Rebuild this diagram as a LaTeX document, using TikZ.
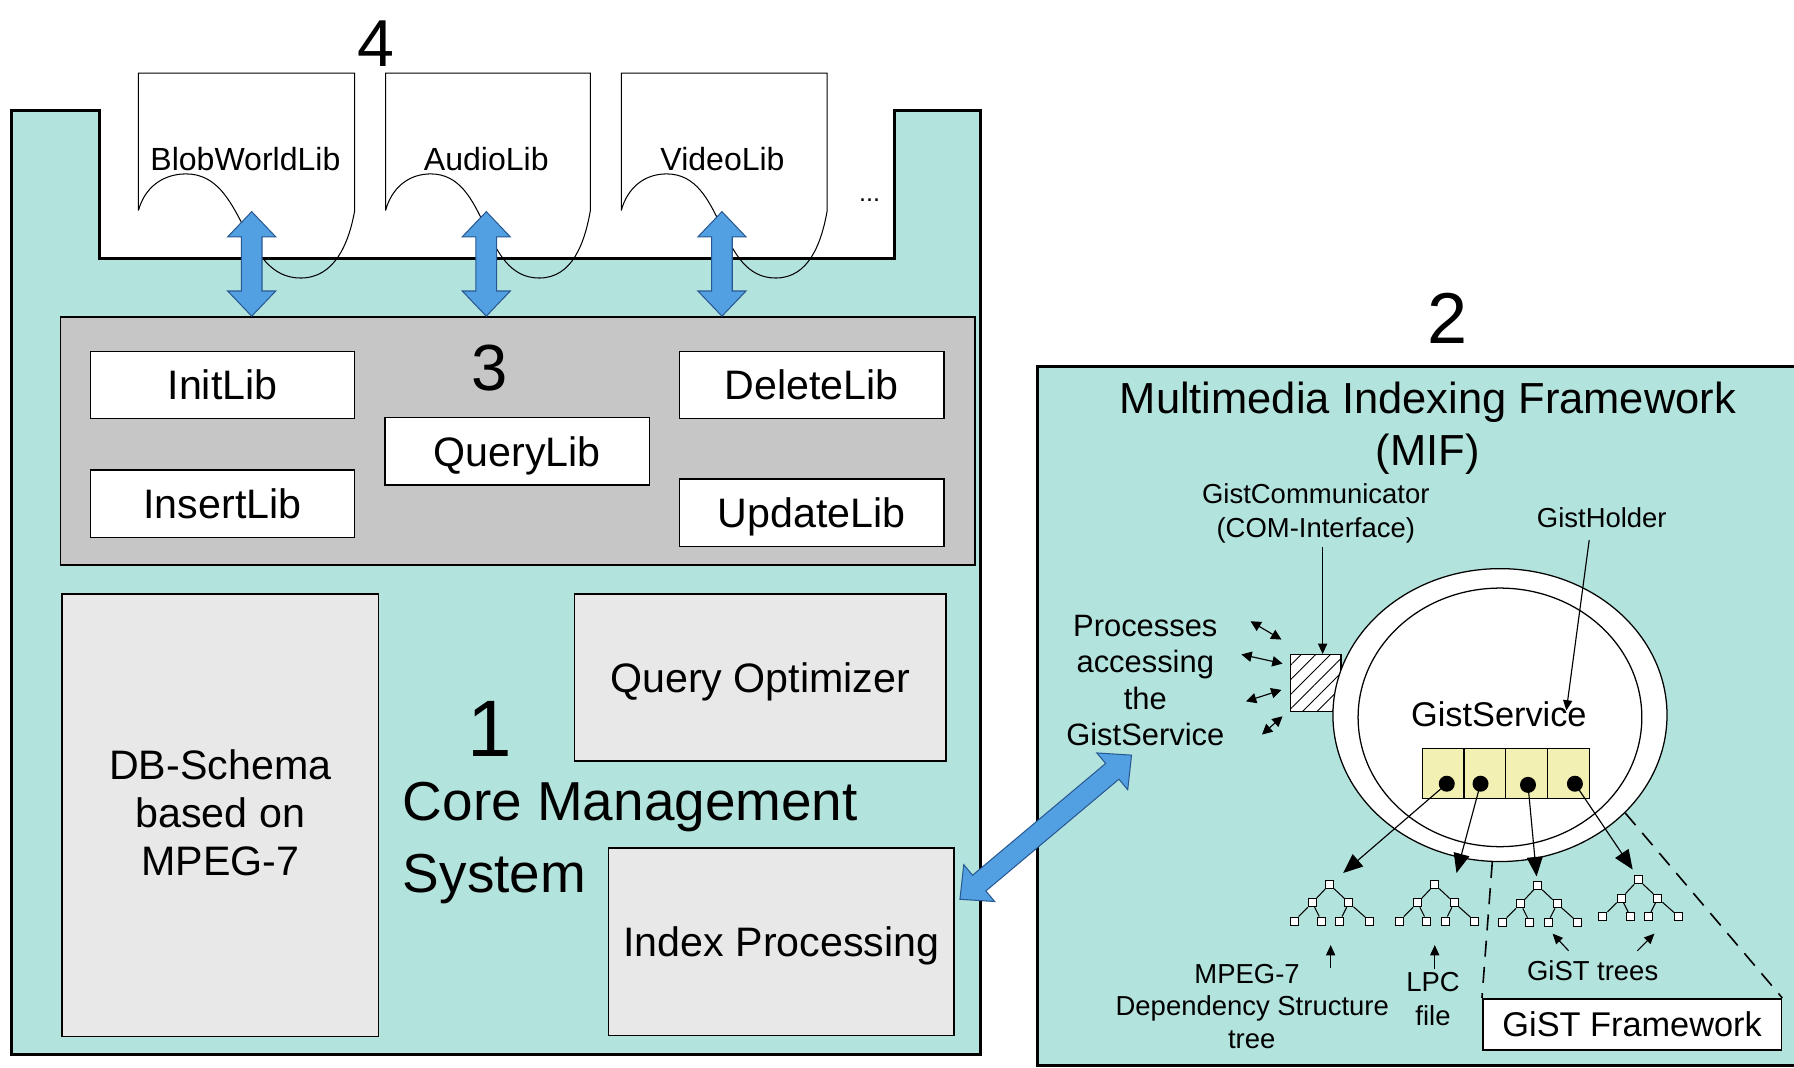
\documentclass[tikz,border=0pt]{standalone}
\usepackage{fontspec}
\setmainfont{Liberation Sans}
\usetikzlibrary{arrows.meta,calc,patterns.meta,shapes.geometric}

\definecolor{coreteal}{RGB}{179,227,221}
\definecolor{apigray}{RGB}{198,198,198}
\definecolor{modgray}{RGB}{232,232,232}
\definecolor{slotyellow}{RGB}{242,240,178}
\definecolor{flowblue}{RGB}{82,160,226}
\definecolor{flowedge}{RGB}{40,88,145}

\newcommand\fsz[2]{\fontsize{#1}{#2}\selectfont}

% wide double-headed block arrow between two points
\newcommand\blockarrow[2]{%
  \draw[flowarrow] let \p1=(#1), \p2=(#2),
      \n1={atan2(\y2-\y1,\x2-\x1)}, \n2={veclen(\x2-\x1,\y2-\y1)} in
    [shift={(\x1,\y1)}, rotate=\n1]
    (0pt,0pt) -- (22pt,21pt) -- (22pt,9pt) -- (\n2-22pt,9pt) -- (\n2-22pt,21pt)
    -- (\n2,0pt) -- (\n2-22pt,-21pt) -- (\n2-22pt,-9pt) -- (22pt,-9pt)
    -- (22pt,-21pt) -- cycle;}

% library document with a wavy lower edge
\newcommand\libdoc[3]{%
  \draw[docline] (#1,184) -- (#1,64) -- (#2,64) -- (#2,184)
    to[out=-100,in=0] ($(#1,243)!0.75!(#2,243)$)
    to[out=180,in=0] ($(#1,152)!0.22!(#2,152)$)
    to[out=180,in=75] (#1,184);
  \coordinate (#3) at ($(#1,64)!0.5!(#2,64)$);}

\begin{document}
\begin{tikzpicture}[x=1pt,y=-1pt,
  block/.style={fill=coreteal, draw=black, line width=2.6pt, line join=miter},
  docline/.style={draw=black, line width=0.9pt},
  flowarrow/.style={fill=flowblue, draw=flowedge, line width=0.9pt, line join=miter},
  libbox/.style={draw=black, fill=white, line width=1.3pt, minimum width=231,
    minimum height=59, inner sep=0, font=\fsz{36}{40}, text height=25.8pt, text depth=0pt},
  modbox/.style={draw=black, fill=modgray, line width=1.3pt, inner sep=0,
    font=\fsz{36}{42}, align=center},
  bignum/.style={inner sep=0},
  lbl/.style={inner sep=0, anchor=base},
  small/.style={lbl, font=\fsz{24}{28}},
  tnode/.style={draw=black, fill=white, line width=0.9pt, minimum size=7, inner sep=0},
  cell/.style={draw=black, fill=slotyellow, line width=1pt, minimum width=36.5,
    minimum height=44, inner sep=0},
  dot/.style={circle, fill=black, minimum size=14, inner sep=0},
  ptr/.style={line width=1pt, -{Triangle[width=14pt,length=17pt]}},
  tinyptr/.style={line width=1pt, -{Triangle[width=8pt,length=9pt]}},
  twoway/.style={line width=1pt, {Triangle[width=9pt,length=9pt]}-{Triangle[width=9pt,length=9pt]}},
  gtree/.pic={
    \node[tnode] (-r) at (0,0) {};
    \node[tnode] (-a) at (-15,16) {};
    \node[tnode] (-b) at (17,16) {};
    \node[tnode] (-aa) at (-31,32) {};
    \node[tnode] (-ab) at (-7,32) {};
    \node[tnode] (-ba) at (9,32) {};
    \node[tnode] (-bb) at (35,32) {};
    \draw[line width=0.9pt] (-r) -- (-a) (-r) -- (-b) (-a) -- (-aa) (-a) -- (-ab)
      (-b) -- (-ba) (-b) -- (-bb);
  }]
\useasboundingbox (0,0) rectangle (1568,933);

% ---------- core management system ----------
\draw[block] (10,97) -- (87,97) -- (87,226) -- (782,226) -- (782,97) -- (857,97)
  -- (857,922) -- (10,922) -- cycle;

\node[draw=black, fill=apigray, line width=1.3pt, minimum width=799, minimum height=217,
  inner sep=0] (api) at (452.5,385.5) {};
\node[libbox] (initlib) at (194.5,336.5) {InitLib};
\node[libbox] (insertlib) at (194.5,440.5) {InsertLib};
\node[libbox] (querylib) at (452,394.5) {QueryLib};
\node[libbox] (deletelib) at (709.5,336.5) {DeleteLib};
\node[libbox] (updatelib) at (709.5,448) {UpdateLib};
\node[bignum, font=\fsz{57}{60}] (n3) at (428,322) {3};

\node[modbox, minimum width=277, minimum height=387] (dbschema) at (192.5,712.5) {};
\node[inner sep=0, font=\fsz{36}{42}, align=center] (dbtext) at (192.5,710)
  {DB-Schema\\based on\\MPEG-7};
\node[modbox, minimum width=325, minimum height=146, text height=25.8pt, text depth=0pt]
  (queryopt) at (664.5,592) {Query Optimizer};
\node[modbox, minimum width=302, minimum height=164, text height=25.8pt, text depth=0pt]
  (indexproc) at (683,823) {Index Processing};

\node[bignum, font=\fsz{70}{72}] (n1) at (428,637) {1};
\node[lbl, anchor=base west, font=\fsz{48}{52}] (cms1) at (352,717) {Core Management};
\node[lbl, anchor=base west, font=\fsz{48}{52}] (cms2) at (352,780) {System};

% ---------- media libraries ----------
\libdoc{121}{310}{blobdoc}
\libdoc{337}{516}{audiodoc}
\libdoc{543}{723}{videodoc}
\node[lbl, font=\fsz{28}{30}] (blobworld) at (214.5,149) {BlobWorldLib};
\node[lbl, font=\fsz{28}{30}] (audiolib) at (425,149) {AudioLib};
\node[lbl, font=\fsz{28}{30}] (videolib) at (631.5,149) {VideoLib};
\node[lbl, font=\fsz{22}{26}] (more) at (760,176) {...};
\node[bignum, font=\fsz{58}{60}] (n4) at (329,38) {4};

\coordinate (blobport) at (220,185);
\coordinate (audioport) at (425,185);
\coordinate (videoport) at (631,185);
\blockarrow{blobport}{blobport |- api.north}
\blockarrow{audioport}{audioport |- api.north}
\blockarrow{videoport}{videoport |- api.north}

% ---------- multimedia indexing framework ----------
\draw[block] (907,320) rectangle (1620,931);
\node[bignum, font=\fsz{63}{66}] (n2) at (1265,278) {2};
\node[lbl, font=\fsz{38}{46}] (miftitle) at (1248,361) {Multimedia Indexing Framework};
\node[lbl, font=\fsz{38}{46}] (mifabbr) at (1248,407) {(MIF)};

\node[small] (gcomm1) at (1150,440) {GistCommunicator};
\node[small] (gcomm2) at (1150,470) {(COM-Interface)};
\node[small] (gholder) at (1400,461) {GistHolder};

\node[lbl, font=\fsz{27}{32}] (proc1) at (1001,556) {Processes};
\node[lbl, font=\fsz{27}{32}] (proc2) at (1001,588) {accessing};
\node[lbl, font=\fsz{27}{32}] (proc3) at (1001,620) {the};
\node[lbl, font=\fsz{27}{32}] (proc4) at (1001,652) {GistService};

\node[draw=black, line width=1.1pt, minimum width=44, minimum height=50, inner sep=0,
  preaction={fill=white}, pattern={Lines[angle=45,distance=9pt,line width=0.8pt]}]
  (gcomm) at (1150,597) {};

\node[draw=black, ellipse, line width=1.1pt, fill=white, minimum width=292,
  minimum height=256, inner sep=0] (gsouter) at (1311,625) {};
\node[draw=black, ellipse, line width=1.1pt, minimum width=248, minimum height=226,
  inner sep=0] (gsinner) at (1311,627) {};
\node[lbl, font=\fsz{30}{32}] (gsname) at (1310,635) {GistService};

\foreach \i in {1,...,4}
  \node[cell] (cell\i) at ({1243+36.5*(\i-0.5)},676) {};
\node[dot] (dot1) at (1264.5,685) {};
\node[dot] (dot2) at (1294,685) {};
\node[dot] (dot3) at (1335.5,686) {};
\node[dot] (dot4) at (1376.5,685) {};

\pic (tree1) at (1162,773) {gtree};
\pic (tree2) at (1254,773) {gtree};
\pic (tree3) at (1344,774) {gtree};
\pic (tree4) at (1432,769) {gtree};

\coordinate (tip1) at (1174,763);
\coordinate (tip2) at (1273,763);
\coordinate (tip3) at (1343,766);
\coordinate (tip4) at (1427,760);
\draw[ptr] (dot1.center) -- (tip1);
\draw[ptr] (dot2.center) -- (tip2);
\draw[ptr] (dot3.center) -- (tip3);
\draw[ptr] (dot4.center) -- (tip4);

% communicator and holder pointers
\coordinate (gcommtail) at (1156,478);
\draw[tinyptr] (gcommtail) -- (gcommtail |- gcomm.north);
\coordinate (gholdertail) at (1389,472);
\coordinate (gholdertip) at (1369,621);
\draw[tinyptr] (gholdertail) -- (gholdertip);

% client processes talking to the communicator
\coordinate (pa1) at (1093,543); \coordinate (pb1) at (1120,559);
\coordinate (pa2) at (1085,572); \coordinate (pb2) at (1121,580);
\coordinate (pa3) at (1089,613); \coordinate (pb3) at (1120,603);
\coordinate (pa4) at (1103,642); \coordinate (pb4) at (1121,626);
\draw[twoway] (pa1) -- (pb1);
\draw[twoway] (pa2) -- (pb2);
\draw[twoway] (pa3) -- (pb3);
\draw[twoway] (pa4) -- (pb4);

% gist framework
\node[draw=black, fill=white, line width=1.5pt, minimum width=261, minimum height=45,
  inner sep=0, font=\fsz{30}{32}, text height=21.5pt, text depth=0pt]
  (gistfw) at (1426.5,895.5) {GiST Framework};
\draw[line width=1.4pt, dash pattern=on 14pt off 9pt] (gsouter.-93) -- (gistfw.north west);
\draw[line width=1.4pt, dash pattern=on 14pt off 9pt] (gsouter.-38) -- (gistfw.north east);

% tree captions
\node[small] (mpeg1) at (1090,860) {MPEG-7};
\node[small] (mpeg2) at (1094.5,888) {Dependency Structure};
\node[small] (mpeg3) at (1094,916) {tree};
\node[small] (lpc1) at (1252.5,867) {LPC};
\node[small] (lpc2) at (1252.5,896) {file};
\node[small] (gtrees) at (1392,857) {GiST trees};
\coordinate (mpegtail) at (1163,846); \coordinate (mpegtip) at (1163,826);
\coordinate (lpctail) at (1254,847); \coordinate (lpctip) at (1254,826);
\coordinate (gtl) at (1371,831); \coordinate (gtltip) at (1357,816);
\coordinate (gtr) at (1431,831); \coordinate (gtrtip) at (1446,816);
\draw[tinyptr] (mpegtail) -- (mpegtip);
\draw[tinyptr] (lpctail) -- (lpctip);
\draw[tinyptr] (gtl) -- (gtltip);
\draw[tinyptr] (gtr) -- (gtrtip);

% link between core system and indexing framework
\coordinate (ixport) at (839,786);
\coordinate (gsport) at (989,660);
\blockarrow{ixport}{gsport}
\end{tikzpicture}
\end{document}
